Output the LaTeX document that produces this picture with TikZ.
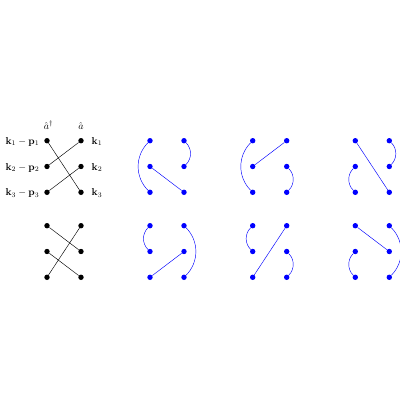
\documentclass[tikz,border=0pt]{standalone}
\usepackage{amsmath}
\begin{document}
\begin{tikzpicture}[x=1pt,y=-1pt,
  blackdot/.style={circle,fill=black,inner sep=0pt,minimum size=5.4pt},
  bluedot/.style={circle,fill=blue,inner sep=0pt,minimum size=5.4pt},
  bline/.style={line width=0.45pt,black},
  uline/.style={line width=0.45pt,blue},
  lab/.style={inner sep=0pt}]
\useasboundingbox (0,0) rectangle (400,400);
% node grid
\foreach \k/\cx/\sty in {0/47/blackdot,1/150/bluedot,2/252.7/bluedot,3/355.3/bluedot}{
  \foreach \r/\oy in {t/0,b/85}{
    \foreach \i/\ry in {1/140.7,2/166.5,3/192.3}{
      \node[\sty] (d\k\r L\i) at (\cx,\ry+\oy) {};
      \node[\sty] (d\k\r R\i) at (\cx+34,\ry+\oy) {};
    }
  }
}
% labels
\node[lab,anchor=base] (ad) at (48.5,129.5) {$\hat{a}^\dagger$};
\node[lab,anchor=base] (aa) at (81,129.5) {$\hat{a}$};
\node[lab,anchor=base east] (l1) at (39.5,144.2) {$\mathbf{k}_1-\mathbf{p}_1$};
\node[lab,anchor=base east] (l2) at (39.5,170) {$\mathbf{k}_2-\mathbf{p}_2$};
\node[lab,anchor=base east] (l3) at (39.5,195.8) {$\mathbf{k}_3-\mathbf{p}_3$};
\node[lab,anchor=base west] (r1) at (91.5,144.2) {$\mathbf{k}_1$};
\node[lab,anchor=base west] (r2) at (91.5,170) {$\mathbf{k}_2$};
\node[lab,anchor=base west] (r3) at (91.5,195.8) {$\mathbf{k}_3$};
% black diagrams
\draw[bline] (d0tL1) -- (d0tR3);
\draw[bline] (d0tL2) -- (d0tR1);
\draw[bline] (d0tL3) -- (d0tR2);
\draw[bline] (d0bL1) -- (d0bR2);
\draw[bline] (d0bR1) -- (d0bL3);
\draw[bline] (d0bL2) -- (d0bR3);
% blue top row
\draw[uline] (d1tL1) to[bend right=45] (d1tL3);
\draw[uline] (d1tR1) to[bend left=45] (d1tR2);
\draw[uline] (d1tL2) -- (d1tR3);
\draw[uline] (d2tL1) to[bend right=45] (d2tL3);
\draw[uline] (d2tL2) -- (d2tR1);
\draw[uline] (d2tR2) to[bend left=45] (d2tR3);
\draw[uline] (d3tL1) -- (d3tR3);
\draw[uline] (d3tR1) to[bend left=45] (d3tR2);
\draw[uline] (d3tL2) to[bend right=45] (d3tL3);
% blue bottom row
\draw[uline] (d1bL1) to[bend right=45] (d1bL2);
\draw[uline] (d1bR1) to[bend left=45] (d1bR3);
\draw[uline] (d1bL3) -- (d1bR2);
\draw[uline] (d2bL1) to[bend right=45] (d2bL2);
\draw[uline] (d2bL3) -- (d2bR1);
\draw[uline] (d2bR2) to[bend left=45] (d2bR3);
\draw[uline] (d3bL1) -- (d3bR2);
\draw[uline] (d3bR1) to[bend left=45] (d3bR3);
\draw[uline] (d3bL2) to[bend right=45] (d3bL3);
\end{tikzpicture}
\end{document}
